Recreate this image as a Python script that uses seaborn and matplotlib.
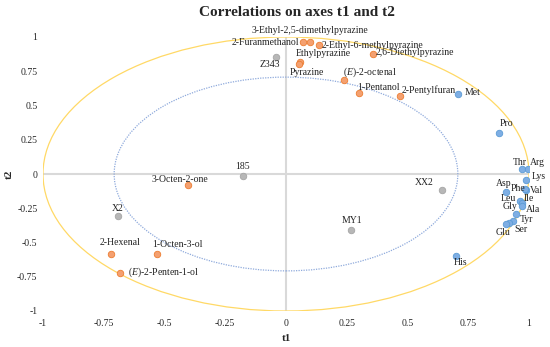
import numpy as np
import pandas as pd
import matplotlib
matplotlib.use("Agg")
import matplotlib.pyplot as plt
import seaborn as sns
from matplotlib.patches import Circle

# variables (name, t1, t2, group)
names = ["2-Furanmethanol", "3-Ethyl-2,5-dimethylpyrazine", "2-Ethyl-6-methylpyrazine",
         "Ethylpyrazine", "Pyrazine", "2,6-Diethylpyrazine", "($\\it{E}$)-2-octenal",
         "1-Pentanol", "2-Pentylfuran", "3-Octen-2-one", "2-Hexenal", "1-Octen-3-ol",
         "($\\it{E}$)-2-Penten-1-ol",
         "Z343", "185", "X2", "MY1", "XX2",
         "Met", "Pro", "Thr", "Arg", "Lys", "Val", "Phe", "Asp", "Ile", "Leu", "Gly",
         "Ala", "Tyr", "Ser", "Glu", "His"]
t1 = [0.071, 0.100, 0.136, 0.057, 0.055, 0.358, 0.240, 0.300, 0.468, -0.402, -0.720, -0.532,
      -0.683,
      -0.040, -0.178, -0.691, 0.266, 0.643,
      0.709, 0.878, 0.970, 0.997, 0.986, 0.989, 0.983, 0.904, 0.963, 0.970, 0.971,
      0.948, 0.934, 0.916, 0.906, 0.700]
t2 = [0.960, 0.966, 0.940, 0.815, 0.805, 0.876, 0.684, 0.589, 0.569, -0.080, -0.584, -0.586,
      -0.720,
      0.854, -0.012, -0.310, -0.409, -0.117,
      0.584, 0.300, 0.036, 0.036, -0.044, -0.120, -0.112, -0.134, -0.197, -0.214, -0.231,
      -0.292, -0.343, -0.360, -0.368, -0.600]
groups = ["volatile"] * 13 + ["sample"] * 5 + ["amino"] * 16

# label offsets in pixels (dx, dy, ha)
offsets = {
    "2-Furanmethanol": (-4, 0, "right"), "3-Ethyl-2,5-dimethylpyrazine": (0, 11, "center"),
    "2-Ethyl-6-methylpyrazine": (3, 0, "left"), "Ethylpyrazine": (-4, 9, "left"),
    "Pyrazine": (-10, -9, "left"), "2,6-Diethylpyrazine": (3, 1, "left"),
    "($\\it{E}$)-2-octenal": (-1, 8, "left"), "1-Pentanol": (-2, 6, "left"),
    "2-Pentylfuran": (2, 6, "left"), "3-Octen-2-one": (-8, 5, "center"),
    "2-Hexenal": (9, 12, "center"), "1-Octen-3-ol": (-5, 10, "left"),
    "($\\it{E}$)-2-Penten-1-ol": (8, 0, "left"),
    "Z343": (-6, -7, "center"), "185": (0, 9, "center"), "X2": (0, 8, "center"),
    "MY1": (1, 10, "center"), "XX2": (-9, 8, "right"),
    "Met": (6, 1, "left"), "Pro": (0, 9, "left"), "Thr": (-2, 7, "center"),
    "Arg": (2, 7, "left"), "Lys": (6, 4, "left"), "Val": (4, 0, "left"),
    "Phe": (1, 1, "right"), "Asp": (-2, 9, "center"), "Ile": (4, 2, "left"),
    "Leu": (-6, 5, "right"), "Gly": (-5, -1, "right"), "Ala": (10, 5, "left"),
    "Tyr": (7, 1, "left"), "Ser": (6, -6, "left"), "Glu": (-3, -8, "center"),
    "His": (-2, -6, "left"),
}

df = pd.DataFrame({"name": names, "t1": t1, "t2": t2, "group": groups})

sns.set_style("white")
plt.rcParams["font.family"] = ["Liberation Serif", "DejaVu Serif"]
plt.rcParams["mathtext.fontset"] = "custom"
plt.rcParams["mathtext.it"] = "Liberation Serif:italic"
plt.rcParams["mathtext.rm"] = "Liberation Serif"

fig = plt.figure(figsize=(5.5, 3.47), dpi=100)
ax = fig.add_axes([43 / 550, 1 - 311 / 347, 486 / 550, 274 / 347])

ax.axhline(0, color="#d9d9d9", lw=1.5, zorder=0)
ax.axvline(0, color="#d9d9d9", lw=1.5, zorder=0)
ax.add_patch(Circle((0, 0), 1, fill=False, ec="#ffd966", lw=0.9, zorder=1))
ax.add_patch(Circle((0, 0), np.sqrt(0.5), fill=False, ec="#8faadc", lw=0.9, ls=(0, (1, 1)), zorder=1))

palette = {"volatile": "#f4a070", "sample": "#b7b7b7", "amino": "#7eaee4"}
edges = {"volatile": "#ed7d31", "sample": "#a5a5a5", "amino": "#5b9bd5"}
for g in ["volatile", "sample", "amino"]:
    sub = df[df["group"] == g]
    sns.scatterplot(data=sub, x="t1", y="t2", color=palette[g], edgecolor=edges[g],
                    linewidth=0.6, s=22, ax=ax, zorder=3, legend=False)

for n, x, y in zip(names, t1, t2):
    dx, dy, ha = offsets[n]
    ax.annotate(n, (x, y), xytext=(dx, dy), textcoords="offset pixels",
                ha=ha, va="center", fontsize=7, color="#222222", zorder=4)

ax.set_xlim(-1, 1)
ax.set_ylim(-1, 1)
ticks = [-1, -0.75, -0.5, -0.25, 0, 0.25, 0.5, 0.75, 1]
labels = ["-1", "-0.75", "-0.5", "-0.25", "0", "0.25", "0.5", "0.75", "1"]
ax.set_xticks(ticks)
ax.set_xticklabels(labels, fontsize=7)
ax.set_yticks(ticks)
ax.set_yticklabels(labels, fontsize=7)
ax.tick_params(axis="x", length=0, pad=6)
ax.tick_params(axis="y", length=0, pad=4)
for sp in ax.spines.values():
    sp.set_visible(False)
ax.set_xlabel("t1", fontsize=8, fontweight="bold", labelpad=4)
ax.set_ylabel("t2", fontsize=8, fontweight="bold", labelpad=2)
fig.text(0.54, 0.965, "Correlations on axes t1 and t2", ha="center", va="center",
         fontsize=11, fontweight="bold")

fig.savefig("out.png", dpi=100)
